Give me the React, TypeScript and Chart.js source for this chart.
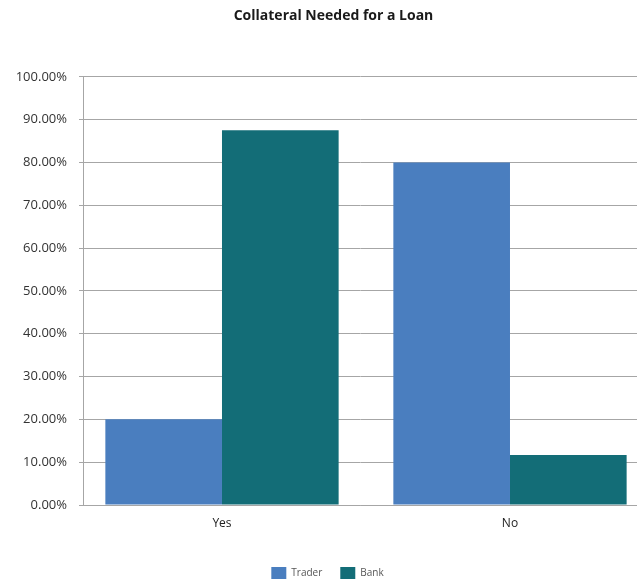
import React, { useEffect, useRef } from "react";
import { Chart, registerables } from "chart.js";

Chart.register(...registerables);

const categories = ["Yes", "No"];
const traderValues = [20.0, 80.0];
const bankValues = [87.5, 11.7];
const yTicks = [0, 10, 20, 30, 40, 50, 60, 70, 80, 90, 100];

const FONT = "'Open Sans', 'Noto Sans', sans-serif";

const shiftBoxes = {
  id: "shiftBoxes",
  afterLayout(chart: any) {
    const t = chart.titleBlock;
    if (t) {
      t.left += 15;
      t.right += 15;
    }
    const l = chart.legend;
    if (l) {
      l.left += 9;
      l.right += 9;
    }
  },
};

export default function App() {
  const ref = useRef<HTMLCanvasElement | null>(null);

  useEffect(() => {
    if (!ref.current) return;
    const chart = new Chart(ref.current, {
      type: "bar",
      data: {
        datasets: [
          {
            label: "Trader",
            data: traderValues.map((v, i) => ({ x: i, y: v })),
            backgroundColor: "#4a7ebf",
            borderWidth: 0,
            categoryPercentage: 0.81,
            barPercentage: 1.0,
          },
          {
            label: "Bank",
            data: bankValues.map((v, i) => ({ x: i, y: v })),
            backgroundColor: "#136d77",
            borderWidth: 0,
            categoryPercentage: 0.81,
            barPercentage: 1.0,
          },
        ],
      },
      plugins: [shiftBoxes],
      options: {
        animation: false,
        responsive: false,
        maintainAspectRatio: false,
        layout: { padding: { left: 0, right: 0, top: 0, bottom: -9 } },
        plugins: {
          title: {
            display: true,
            text: "Collateral Needed for a Loan",
            color: "#1a1a1a",
            font: { family: FONT, size: 14, weight: "bold" },
            padding: { top: 8, bottom: 52 },
          },
          legend: {
            position: "bottom",
            labels: {
              boxWidth: 15,
              boxHeight: 12,
              color: "#555",
              padding: 18,
              font: { family: FONT, size: 10 },
            },
          },
          tooltip: { enabled: false },
        },
        scales: {
          x: {
            type: "linear",
            offset: false,
            bounds: "data",
            min: -0.4826,
            max: 1.441,
            afterBuildTicks: (s: any) => {
              s.ticks = categories.map((_, i) => ({ value: i }));
            },
            afterFit: (s: any) => {
              s.height = 44;
            },
            grid: { display: false, drawTicks: false, tickLength: 0, offset: false },
            border: { display: true, color: "#a6a6a6", width: 1 },
            ticks: {
              padding: 11,
              color: "#222",
              font: { family: FONT, size: 12 },
              callback: (v: any) => categories[Math.round(Number(v))] ?? "",
            },
          },
          y: {
            min: 0,
            max: 100,
            afterFit: (s: any) => {
              s.width = 83;
            },
            afterBuildTicks: (s: any) => {
              s.ticks = yTicks.map((v) => ({ value: v }));
            },
            grid: {
              color: "#a6a6a6",
              lineWidth: 1,
              tickLength: 4,
              drawTicks: true,
            },
            border: { display: true, color: "#a6a6a6", width: 1 },
            ticks: {
              padding: 12,
              color: "#333",
              font: { family: FONT, size: 13 },
              callback: (v: any) => Number(v).toFixed(2) + "%",
            },
          },
        },
      },
    });
    return () => chart.destroy();
  }, []);

  return (
    <div style={{ position: "fixed", left: 0, top: 0, width: 637, height: 580, background: "#fff" }}>
      <canvas ref={ref} width={637} height={580} style={{ display: "block" }} />
    </div>
  );
}
